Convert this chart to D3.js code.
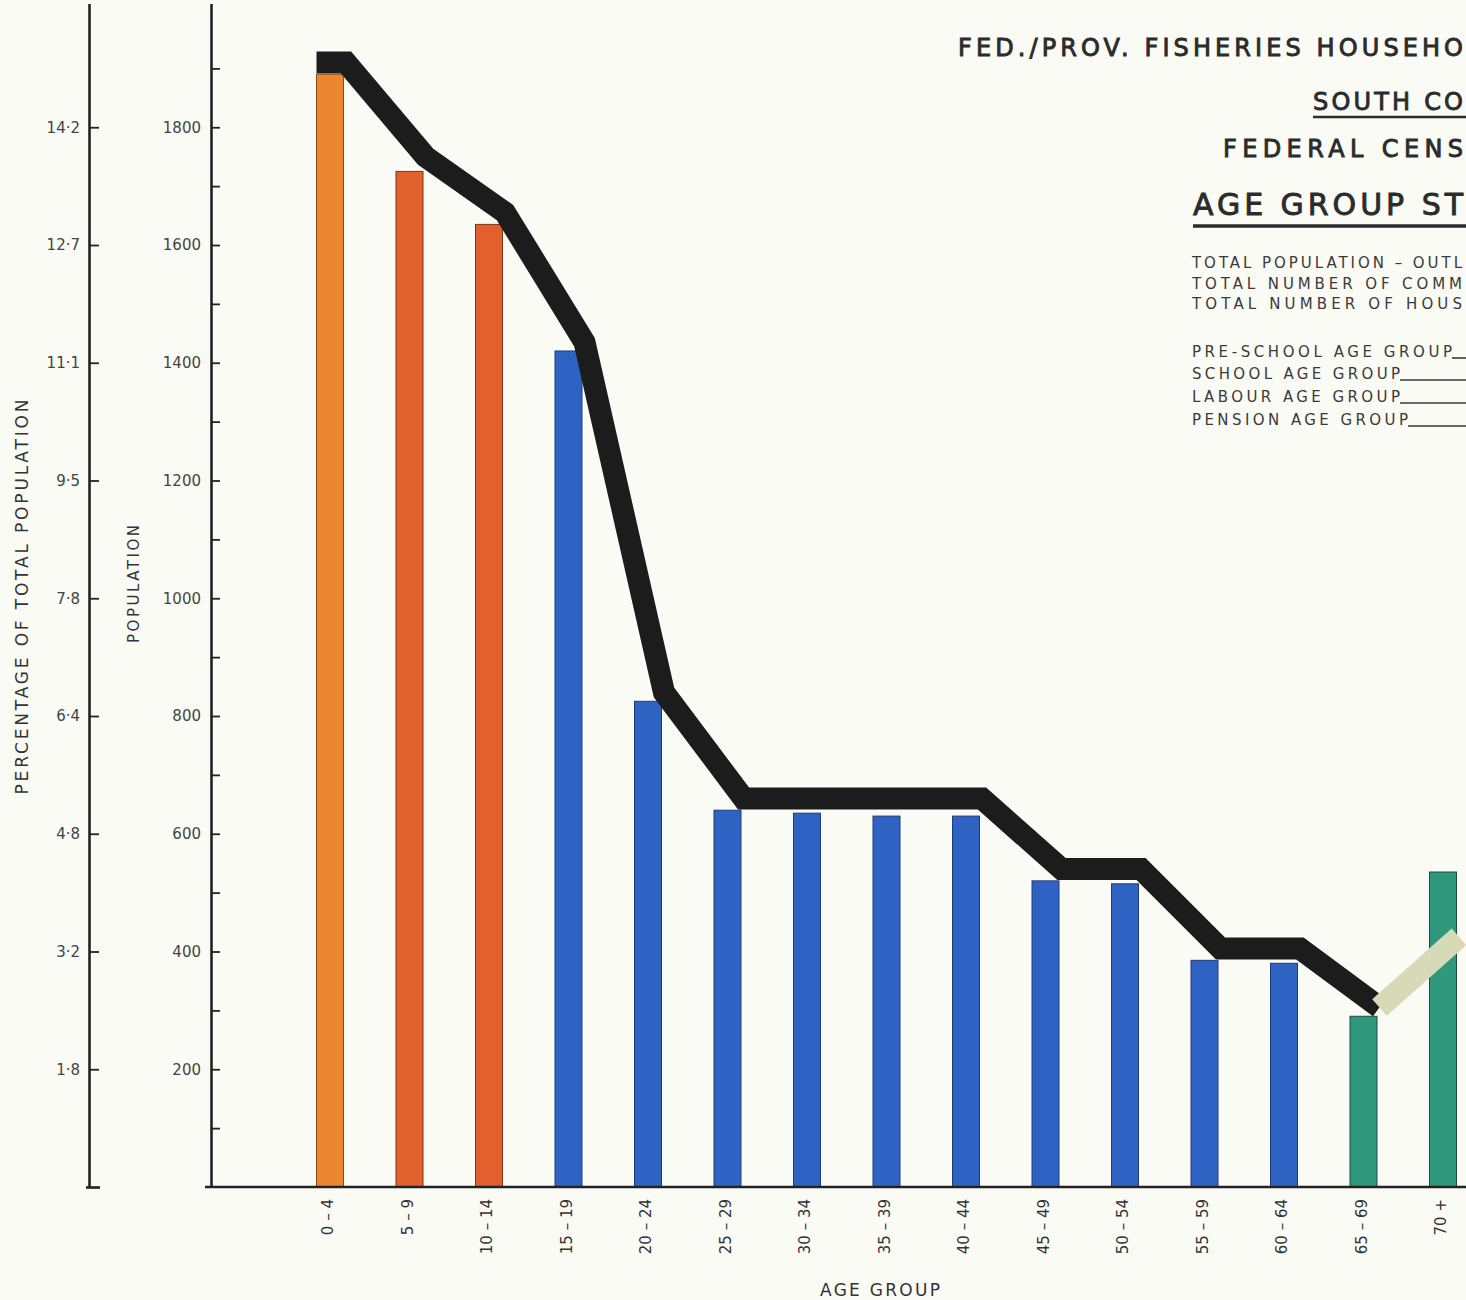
<!DOCTYPE html>
<html>
<head>
<meta charset="utf-8">
<script src="https://cdn.jsdelivr.net/npm/d3@7"></script>
<style>
  html, body { margin: 0; padding: 0; background: #fbfbf6; overflow: hidden; }
  svg { display: block; }
  text { font-family: "DejaVu Sans", "Liberation Sans", sans-serif; }
</style>
</head>
<body>
<svg id="chart" width="1466" height="1300"></svg>
<script>
// ---------------- DATA ----------------
const ageGroups = ["0 – 4","5 – 9","10 – 14","15 – 19","20 – 24","25 – 29","30 – 34","35 – 39",
                   "40 – 44","45 – 49","50 – 54","55 – 59","60 – 64","65 – 69","70 +"];
const population = [1890,1725,1635,1420,825,640,635,630,630,520,515,385,380,290,535];
const outlineValues = [1910,1750,1655,1435,840,660,660,660,660,540,540,405,405,305,425];
const ageClass = ["pre","school","school","labour","labour","labour","labour","labour",
                  "labour","labour","labour","labour","labour","pension","pension"];
const popTicks = [200,400,600,800,1000,1200,1400,1600,1800];
const popMinorTicks = [100,300,500,700,900,1100,1300,1500,1700,1900];
const pctTickLabels = ["1·8","3·2","4·8","6·4","7·8","9·5","11·1","12·7","14·2"];

const titleLines = ["FED./PROV.  FISHERIES  HOUSEHO","SOUTH  CO","FEDERAL  CENS","AGE  GROUP  ST"];
const infoLines = ["TOTAL  POPULATION – OUTL","TOTAL  NUMBER  OF  COMM","TOTAL  NUMBER  OF  HOUS"];
const groupLines = ["PRE-SCHOOL  AGE  GROUP","SCHOOL  AGE  GROUP","LABOUR  AGE  GROUP","PENSION  AGE  GROUP"];

// ---------------- STYLE ----------------
const classColor = {pre:"#ec8631", school:"#e2602d", labour:"#2f63c3", pension:"#2f977c"};
const classStroke = {pre:"#8a4a18", school:"#7e3318", labour:"#1d3d7a", pension:"#1b4d40"};
const ink = "#222";

const svg = d3.select("#chart");
const W = 1466, H = 1300;

const y = d3.scaleLinear().domain([0, 2010]).range([1187, 1187 - 2010 * 0.58875]);
const x = d3.scalePoint().domain(ageGroups).range([330, 1443]);
const barW = 27;

// ---------------- BARS ----------------
svg.append("g").selectAll("rect").data(ageGroups).join("rect")
  .attr("x", d => x(d) - barW / 2)
  .attr("y", (d, i) => y(population[i]))
  .attr("width", barW)
  .attr("height", (d, i) => y(0) - y(population[i]))
  .attr("fill", (d, i) => classColor[ageClass[i]])
  .attr("stroke", (d, i) => classStroke[ageClass[i]])
  .attr("stroke-width", 1);

// ---------------- OUTLINE LINE ----------------
const lineOff = 16;
const pts = ageGroups.map((d, i) => ({x: x(d) + lineOff, v: outlineValues[i]}));
const blackPts = [{x: x(ageGroups[0]) - barW / 2, v: outlineValues[0]}].concat(pts.slice(0, 14));
const lightPts = pts.slice(13);
const line = d3.line().x(d => d.x).y(d => y(d.v));

svg.append("path").attr("d", line(blackPts))
  .attr("fill", "none").attr("stroke", "#1c1c1c").attr("stroke-width", 22)
  .attr("stroke-linejoin", "miter").attr("stroke-miterlimit", 4).attr("stroke-linecap", "butt");
svg.append("path").attr("d", line(lightPts))
  .attr("fill", "none").attr("stroke", "#d6dab6").attr("stroke-width", 22)
  .attr("stroke-linejoin", "miter").attr("stroke-linecap", "butt");

// ---------------- AXES ----------------
const popAxisX = 211;
const gPop = svg.append("g").attr("transform", `translate(${popAxisX},0)`)
  .call(d3.axisLeft(y).tickValues(popTicks).tickFormat(d3.format("d"))
        .tickSizeInner(-9).tickSizeOuter(0).tickPadding(10));
const gPopMinor = svg.append("g").attr("transform", `translate(${popAxisX},0)`)
  .call(d3.axisLeft(y).tickValues(popMinorTicks).tickFormat("")
        .tickSizeInner(-9).tickSizeOuter(0));
gPopMinor.select(".domain").remove();

const pctAxisX = 89;
const gPct = svg.append("g").attr("transform", `translate(${pctAxisX},0)`)
  .call(d3.axisLeft(y).tickValues(popTicks).tickFormat((d, i) => pctTickLabels[i])
        .tickSizeInner(-10).tickSizeOuter(0).tickPadding(9));

[gPop, gPopMinor, gPct].forEach(g => {
  g.selectAll(".domain").attr("stroke", ink).attr("stroke-width", 2.6);
  g.selectAll(".tick line").attr("stroke", ink).attr("stroke-width", 1.8);
  g.selectAll(".tick text").attr("fill", "#444").attr("font-size", 15)
    .style("font-family", "'DejaVu Sans', sans-serif");
});

svg.append("line").attr("x1", popAxisX - 6).attr("x2", W)
  .attr("y1", y(0)).attr("y2", y(0)).attr("stroke", ink).attr("stroke-width", 2.6);
svg.append("line").attr("x1", pctAxisX - 3).attr("x2", pctAxisX + 11)
  .attr("y1", y(0) + 0.5).attr("y2", y(0) + 0.5).attr("stroke", ink).attr("stroke-width", 2.6);

// x labels
svg.append("g").selectAll("text").data(ageGroups).join("text")
  .attr("transform", d => `translate(${x(d) - 2},${y(0) + 12}) rotate(-90)`)
  .attr("text-anchor", "end").attr("dy", "0.36em")
  .attr("font-size", 15).attr("fill", "#333")
  .text(d => d);

// axis titles
svg.append("text").attr("transform", "translate(880,1296)")
  .attr("text-anchor", "middle").attr("font-size", 17).attr("fill", "#333")
  .attr("textLength", 120).attr("lengthAdjust", "spacing")
  .text("AGE GROUP");
svg.append("text").attr("transform", "translate(28,597) rotate(-90)")
  .attr("text-anchor", "middle").attr("font-size", 17).attr("fill", "#333")
  .attr("textLength", 395).attr("lengthAdjust", "spacing")
  .text("PERCENTAGE OF TOTAL POPULATION");
svg.append("text").attr("transform", "translate(139,584) rotate(-90)")
  .attr("text-anchor", "middle").attr("font-size", 15).attr("fill", "#333")
  .attr("textLength", 118).attr("lengthAdjust", "spacing")
  .text("POPULATION");

// ---------------- TITLE BLOCK ----------------
const titleSpec = [
  {x: 958,  y: 56,  size: 24, len: 505},
  {x: 1313, y: 110, size: 24, len: 150},
  {x: 1223, y: 157, size: 24, len: 240},
  {x: 1193, y: 215, size: 30, len: 270}
];
titleLines.forEach((t, i) => {
  const s = titleSpec[i];
  svg.append("text").attr("x", s.x).attr("y", s.y)
    .attr("font-size", s.size).attr("fill", "#2b2b2b")
    .attr("stroke", "#2b2b2b").attr("stroke-width", 0.9)
    .attr("textLength", s.len).attr("lengthAdjust", "spacing").text(t);
});
svg.append("line").attr("x1", 1313).attr("x2", W).attr("y1", 117).attr("y2", 117)
  .attr("stroke", "#2b2b2b").attr("stroke-width", 2.5);
svg.append("line").attr("x1", 1193).attr("x2", W).attr("y1", 226).attr("y2", 226)
  .attr("stroke", "#2b2b2b").attr("stroke-width", 3.5);

const infoY = [268, 289, 309];
infoLines.forEach((t, i) => {
  svg.append("text").attr("x", 1192).attr("y", infoY[i])
    .attr("font-size", 15).attr("fill", "#3a3a3a")
    .attr("textLength", 270).attr("lengthAdjust", "spacing").text(t);
});
const groupY = [357, 379, 402, 425];
const groupLen = [260, 208, 208, 216];
groupLines.forEach((t, i) => {
  svg.append("text").attr("x", 1192).attr("y", groupY[i])
    .attr("font-size", 15).attr("fill", "#3a3a3a")
    .attr("textLength", groupLen[i]).attr("lengthAdjust", "spacing").text(t);
  svg.append("line").attr("x1", 1192 + groupLen[i]).attr("x2", W)
    .attr("y1", groupY[i] + 1).attr("y2", groupY[i] + 1)
    .attr("stroke", "#3a3a3a").attr("stroke-width", 1.6);
});
</script>
</body>
</html>
